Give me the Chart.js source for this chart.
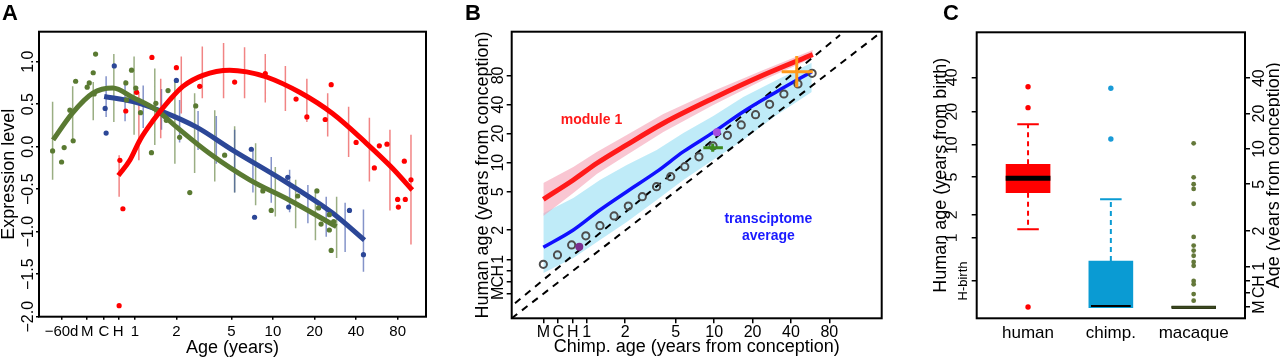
<!DOCTYPE html>
<html>
<head>
<meta charset="utf-8">
<script src="https://cdn.jsdelivr.net/npm/chart.js@4.4.1/dist/chart.umd.min.js"></script>
<style>
  body { margin: 0; width: 1280px; height: 357px; background: #fff; position: relative; overflow: hidden;
         font-family: 'Liberation Sans', Arial, sans-serif; }
  canvas { position: absolute; top: 0; }
  .panel { position: absolute; top: 2px; font-weight: bold; font-size: 22px; line-height: 1; }
</style>
</head>
<body>
<canvas id="chartA" width="430" height="357" style="left:0"></canvas>
<canvas id="chartB" width="480" height="357" style="left:430px"></canvas>
<canvas id="chartC" width="370" height="357" style="left:910px"></canvas>
<div class="panel" style="left:2px">A</div>
<div class="panel" style="left:465px">B</div>
<div class="panel" style="left:943px">C</div>

<script>
// ---------- panel A: expression vs age (years) ----------
const aXTicks = [0.295, 0.452, 0.597, 0.759, 1, 2, 5, 10, 20, 40, 80];
const aXLabels = ['\u221260d', 'M', 'C', 'H', '1', '2', '5', '10', '20', '40', '80'];
const aYTicks = [-2, -1.5, -1, -0.5, 0, 0.5, 1];
const aYLabels = ['\u22122.0', '\u22121.5', '\u22121.0', '\u22120.5', '0.0', '0.5', '1.0'];

// red (module 1, human)
const aRedFitX = [0.76, 0.92, 1.09, 1.36, 1.79, 2.23, 3.11, 4.86, 6.45, 9.0, 15.6, 27, 47.5, 73, 102];
const aRedFitY = [-0.34, -0.16, 0.08, 0.31, 0.55, 0.71, 0.84, 0.90, 0.88, 0.82, 0.64, 0.39, 0.04, -0.25, -0.51];
const aRedPtX = [0.78, 0.82, 0.77, 0.86, 1.03, 1.33, 2.0, 2.95, 5.28, 8.8, 14.7, 17.6, 23.9, 26.4, 40.0, 54.2, 58.9, 66.9, 79.9, 80.9, 90.8, 89.3, 99.8];
const aRedPtY = [-0.16, -0.73, -1.87, 0.42, 0.64, 1.05, 0.93, 0.71, 0.76, 0.86, 0.56, 0.35, 0.32, 0.73, 0.05, -0.25, 0.01, 0.03, -0.62, -0.71, -0.62, -0.17, -0.39];
const aRedBarX = [0.77, 1.07, 1.54, 2.17, 3.08, 4.39, 6.23, 8.8, 12.3, 17.6, 24.9, 35.3, 49.9, 70.3, 99.8];
const aRedBarLo = [-0.59, -0.16, 0.1, 0.39, 0.57, 0.57, 0.57, 0.52, 0.42, 0.29, 0.12, -0.12, -0.41, -0.75, -1.15];
const aRedBarHi = [-0.1, 0.64, 0.8, 1.06, 1.18, 1.22, 1.17, 1.09, 0.95, 0.8, 0.63, 0.47, 0.34, 0.2, 0.14];

// blue (chimp)
const aBlueFitX = [0.6, 0.97, 1.6, 2.8, 5.1, 11.7, 27, 46];
const aBlueFitY = [0.59, 0.53, 0.41, 0.23, -0.04, -0.39, -0.78, -1.1];
const aBluePtX = [0.61, 0.62, 0.71, 2.0, 6.97, 7.36, 12.8, 13.0, 35.8, 45.2];
const aBluePtY = [0.45, 0.16, 0.95, 0.78, -0.03, -0.83, -0.36, -0.71, -0.75, -1.27];
const aBlueBarX = [0.62, 0.85, 1.15, 1.56, 2.11, 2.87, 3.89, 5.28, 7.16, 9.72, 13.2, 17.9, 24.3, 33.3, 45.2];
const aBlueBarLo = [0.35, 0.3, 0.22, 0.2, 0.05, -0.04, -0.2, -0.54, -0.54, -0.66, -0.77, -0.9, -1.06, -1.24, -1.47];
const aBlueBarHi = [0.83, 0.78, 0.72, 0.68, 0.55, 0.42, 0.36, 0.2, -0.02, -0.12, -0.27, -0.45, -0.59, -0.66, -0.74];

// green (macaque)
const aGreenFitX = [0.256, 0.351, 0.497, 0.694, 0.967, 1.44, 2.01, 3.48, 6.78, 13.2, 28.8];
const aGreenFitY = [0.08, 0.39, 0.63, 0.69, 0.58, 0.43, 0.23, -0.08, -0.39, -0.63, -0.94];
const aGreenPtX = [0.254, 0.295, 0.308, 0.339, 0.358, 0.373, 0.452, 0.468, 0.5, 0.52, 0.508, 0.861, 0.871, 0.947, 1.017, 1.10, 1.32, 1.42, 1.74, 1.69, 2.11, 2.50, 2.76, 4.47, 8.45, 9.72, 15.1, 20.8, 21.4, 22.3, 25.6, 25.6, 26.4, 27.5];
const aGreenPtY = [-0.05, -0.18, -0.01, 0.43, 0.07, 0.77, 0.70, 0.75, 0.87, 1.09, 0.62, 0.75, 0.55, 0.90, 0.69, 0.40, -0.07, 0.51, 0.66, 0.31, 0.11, -0.54, 0.48, -0.10, -0.52, -0.75, -0.58, -0.52, -0.72, -0.91, -0.80, -0.98, -1.22, -0.88];
const aGreenBarX = [0.254, 0.355, 0.5, 0.705, 0.988, 1.395, 1.95, 2.71, 3.79, 5.28, 7.49, 10.4, 14.6, 20.3, 28.9];
const aGreenBarLo = [-0.39, 0.04, 0.31, 0.29, 0.14, 0.02, -0.2, -0.31, -0.41, -0.54, -0.69, -0.82, -0.96, -1.1, -1.31];
const aGreenBarHi = [0.53, 0.71, 0.76, 1.09, 1.06, 0.92, 0.78, 0.63, 0.43, 0.24, 0.04, -0.24, -0.39, -0.53, -0.59];

// ---------- panel B: human age vs chimp age ----------
const bTicks = [0.457, 0.598, 0.776, 1, 2, 5, 10, 20, 40, 80];
const bYTicks = [0.445, 0.586, 0.762, 1, 2, 5, 10, 20, 40, 80];
const bLabels = ['M', 'C', 'H', '1', '2', '5', '10', '20', '40', '80'];

const bModX = [0.457, 0.785, 1.20, 2.06, 3.99, 9.84, 24.3, 59.3];
const bModY = [4.18, 6.62, 9.86, 15.3, 25.6, 46.5, 80.9, 132];
const bModHi = [6.17, 9.03, 12.9, 19.4, 31.9, 55.2, 91.1, 147];
const bModLo = [2.81, 4.86, 7.64, 12.0, 20.8, 39.6, 71.8, 121];

const bAvgX = [0.457, 0.785, 1.27, 2.06, 3.54, 5.73, 9.84, 16.9, 30.9, 58.2];
const bAvgY = [1.33, 2.01, 3.24, 5.01, 8.07, 13.0, 20.6, 33.7, 54.3, 87.5];
const bAvgHi = [3.0, 4.31, 6.62, 9.46, 13.5, 20.3, 30.4, 47.9, 71.8, 108];
const bAvgLo = [0.72, 1.03, 1.58, 2.43, 4.11, 6.62, 10.7, 17.2, 31.2, 53.9];

const bCircX = [0.457, 0.590, 0.762, 0.984, 1.27, 1.64, 2.12, 2.73, 3.53, 4.56, 5.88, 7.59, 9.80, 12.7, 16.3, 21.1, 27.2, 35.2, 45.4, 58.6];
const bCircY = [0.887, 1.11, 1.41, 1.75, 2.23, 2.81, 3.56, 4.45, 5.64, 7.16, 9.09, 11.5, 14.9, 19.2, 24.6, 31.4, 40.2, 51.4, 65.3, 84.2];

const bPurpleX = [0.875, 10.5];
const bPurpleY = [1.35, 20.6];

const bDiagLowX = [0.258, 205.9];
const bDiagLowY = [0.245, 227];
const bDiagUpX = [0.274, 97];
const bDiagUpY = [0.351, 210];

// crosses: centre, x-extent, y-extent
const bGreenCross = {x: 9.73, y: 14.3, x0: 8.22, x1: 11.7, y0: 13.0, y1: 15.7};
const bOrangeCross = {x: 44.4, y: 87.5, x0: 33.8, x1: 59.3, y0: 60.3, y1: 127};

// ---------- panel C: box plots of human-equivalent age ----------
const GEST = 0.75;
const cSpecies = ['human', 'chimp.', 'macaque'];
const cBoxLo = [3.49, -0.306, -0.315];
const cBoxHi = [6.64, 0.36, -0.29];
const cMedian = [4.87, -0.29, -0.30];
const cWhiskLo = [1.32, -0.306, -0.315];
const cWhiskHi = [15.5, 2.97, -0.29];
const cHumanOut = [33.1, 21.7, -0.30];
const cChimpOut = [32.1, 11.4];
const cMacaqueOut = [10.4, 4.98, 4.25, 3.81, 2.66, 1.03, 0.75, 0.61, 0.48, 0.34, 0.26, 0, -0.047, -0.17, -0.24];
const cLeftTicks = [1, 2, 5, 10, 20, 40];           // years from birth
const cRightTicks = [0.45, 0.6, 0.75, 1, 2, 5, 10, 20, 40]; // years from conception
const cRightLabels = ['M', 'C', 'H', '1', '2', '5', '10', '20', '40'];

// ---------- helpers ----------
Chart.defaults.font.family = "'Liberation Sans', Arial, sans-serif";
Chart.defaults.color = '#000';

const pts = (xs, ys, f = v => v) => xs.map((x, i) => ({x: x, y: f(ys[i])}));

function segs(xs, lo, hi, f = v => v) {
  const out = [];
  xs.forEach((x, i) => { out.push({x: x, y: f(lo[i])}, {x: x, y: f(hi[i])}, {x: x, y: null}); });
  return out;
}

function fixedTicks(values) {
  return axis => { axis.ticks = values.map(v => ({value: v})); };
}

const frame = {
  id: 'frame',
  afterDraw(chart) {
    const {ctx, chartArea: a} = chart;
    ctx.save();
    ctx.strokeStyle = '#000';
    ctx.lineWidth = 2;
    ctx.strokeRect(a.left, a.top, a.right - a.left, a.bottom - a.top);
    ctx.restore();
  }
};

const notes = {
  id: 'notes',
  afterDatasetsDraw(chart, args, opts) {
    const {ctx, scales} = chart;
    (opts.items || []).forEach(n => {
      ctx.save();
      ctx.font = n.font;
      ctx.fillStyle = n.color;
      ctx.textAlign = 'center';
      ctx.textBaseline = 'middle';
      ctx.fillText(n.text, scales.x.getPixelForValue(n.x), scales.y.getPixelForValue(n.y));
      ctx.restore();
    });
  }
};

// right-hand title reads bottom-to-top like the left one
const sideTitle = {
  id: 'sideTitle',
  afterDraw(chart, args, opts) {
    if (!opts.text) return;
    const s = chart.scales[opts.axis];
    const a = chart.chartArea;
    const ctx = chart.ctx;
    ctx.save();
    ctx.translate(s.right - opts.offset, (a.top + a.bottom) / 2);
    ctx.rotate(-Math.PI / 2);
    ctx.font = opts.font;
    ctx.fillStyle = '#000';
    ctx.textAlign = 'center';
    ctx.textBaseline = 'middle';
    ctx.fillText(opts.text, 0, 0);
    ctx.restore();
  }
};

const baseOptions = {
  responsive: false,
  animation: false,
  events: [],
  plugins: {legend: {display: false}, tooltip: {enabled: false}}
};

function line(data, color, width, order, extra) {
  return Object.assign({data: data, showLine: true, borderColor: color, borderWidth: width,
    pointRadius: 0, order: order}, extra || {});
}

function dots(data, color, r, order) {
  return {data: data, showLine: false, backgroundColor: color, borderWidth: 0, pointRadius: r, order: order};
}

// ---------- chart A ----------
const RED = '#ff0000', BLUE = '#2c4797', GREEN = '#5a7a32';

new Chart(document.getElementById('chartA'), {
  type: 'scatter',
  data: {
    datasets: [
      line(segs(aRedBarX, aRedBarLo, aRedBarHi), 'rgba(232,50,50,0.6)', 1.5, 5),
      line(segs(aBlueBarX, aBlueBarLo, aBlueBarHi), 'rgba(50,75,165,0.6)', 1.5, 5),
      line(segs(aGreenBarX, aGreenBarLo, aGreenBarHi), 'rgba(100,130,65,0.65)', 1.5, 5),
      line(pts(aGreenFitX, aGreenFitY), GREEN, 5, 3, {cubicInterpolationMode: 'monotone'}),
      line(pts(aBlueFitX, aBlueFitY), BLUE, 5, 3, {cubicInterpolationMode: 'monotone'}),
      line(pts(aRedFitX, aRedFitY), RED, 5, 2, {cubicInterpolationMode: 'monotone'}),
      dots(pts(aGreenPtX, aGreenPtY), GREEN, 2.6, 1),
      dots(pts(aBluePtX, aBluePtY), BLUE, 2.6, 1),
      dots(pts(aRedPtX, aRedPtY), RED, 2.6, 1)
    ]
  },
  options: Object.assign({}, baseOptions, {
    layout: {padding: {top: 31.7, right: 3.3, bottom: 0, left: 0}},
    scales: {
      x: {
        type: 'logarithmic', min: 0.2025, max: 128.2,
        afterBuildTicks: fixedTicks(aXTicks),
        afterFit: s => { s.height = 40.3; },
        grid: {drawOnChartArea: false, tickLength: 3, color: '#000', lineWidth: 1.5},
        border: {display: false},
        ticks: {autoSkip: false, maxRotation: 0, padding: 3.3, font: {size: 15},
                callback: (v, i) => aXLabels[i]},
        title: {display: true, text: 'Age (years)', font: {size: 18, lineHeight: 1}, padding: 0}
      },
      y: {
        min: -2.0, max: 1.353,
        afterBuildTicks: fixedTicks(aYTicks),
        afterFit: s => { s.width = 39; },
        grid: {drawOnChartArea: false, tickLength: 3, color: '#000', lineWidth: 1.5},
        border: {display: false},
        ticks: {autoSkip: false, minRotation: 90, maxRotation: 90, crossAlign: 'center', padding: -8.8,
                font: {size: 16}, callback: (v, i) => aYLabels[i]},
        title: {display: true, text: 'Expression level', font: {size: 18, lineHeight: 1}, padding: 0}
      }
    }
  }),
  plugins: [frame]
});

// ---------- chart B ----------
const crossSegs = c => [
  {x: c.x0, y: c.y}, {x: c.x1, y: c.y}, {x: c.x1, y: null},
  {x: c.x, y: c.y0}, {x: c.x, y: c.y1}
];

new Chart(document.getElementById('chartB'), {
  type: 'scatter',
  data: {
    datasets: [
      line(pts(bModX, bModHi), 'rgba(0,0,0,0)', 0, 20, {fill: '+1', backgroundColor: 'rgba(245,160,180,0.6)'}),
      line(pts(bModX, bModLo), 'rgba(0,0,0,0)', 0, 20),
      line(pts(bAvgX, bAvgHi), 'rgba(0,0,0,0)', 0, 21, {fill: '+1', backgroundColor: 'rgba(170,228,246,0.75)'}),
      line(pts(bAvgX, bAvgLo), 'rgba(0,0,0,0)', 0, 21),
      line(pts(bDiagLowX, bDiagLowY), '#000', 2, 10, {borderDash: [7, 6]}),
      line(pts(bDiagUpX, bDiagUpY), '#000', 2, 10, {borderDash: [7, 6]}),
      line(pts(bAvgX, bAvgY), '#1010ff', 3.5, 6, {cubicInterpolationMode: 'monotone'}),
      line(pts(bModX, bModY), '#ff1a1a', 5, 6, {cubicInterpolationMode: 'monotone'}),
      {data: pts(bCircX, bCircY), showLine: false, pointRadius: 3.6, borderWidth: 2,
       borderColor: '#4d4d4d', backgroundColor: 'rgba(0,0,0,0)', order: 4},
      {data: pts(bPurpleX, bPurpleY), showLine: false, pointRadius: 4, borderWidth: 0,
       backgroundColor: ['#7b2e90', '#a64ee0'], order: 3},
      line(crossSegs(bGreenCross), '#3d8a1e', 3, 2),
      line(crossSegs(bOrangeCross), '#ff9a1a', 3, 2)
    ]
  },
  options: Object.assign({}, baseOptions, {
    layout: {padding: {top: 31.7, right: 28.3, bottom: 1.3, left: 44}},
    plugins: Object.assign({}, baseOptions.plugins, {
      notes: {items: [
        {text: 'module 1', x: 1.09, y: 27.7, color: '#ff1a1a', font: "bold 14px 'Liberation Sans', Arial, sans-serif"},
        {text: 'transciptome', x: 26.6, y: 2.61, color: '#1a1aff', font: "bold 14px 'Liberation Sans', Arial, sans-serif"},
        {text: 'average', x: 26.6, y: 1.74, color: '#1a1aff', font: "bold 14px 'Liberation Sans', Arial, sans-serif"}
      ]}
    }),
    scales: {
      x: {
        type: 'logarithmic', min: 0.2581, max: 205.9,
        afterBuildTicks: fixedTicks(bTicks),
        afterFit: s => { s.height = 37.4; },
        grid: {drawOnChartArea: false, tickLength: 5, color: '#000', lineWidth: 1.5},
        border: {display: false},
        ticks: {autoSkip: false, maxRotation: 0, padding: 0, font: {size: 16},
                callback: (v, i) => bLabels[i]},
        title: {display: true, text: 'Chimp. age (years from conception)', font: {size: 18, lineHeight: 1}, padding: 0}
      },
      y: {
        type: 'logarithmic', min: 0.245, max: 227,
        afterBuildTicks: fixedTicks(bYTicks),
        afterFit: s => { s.width = 37.7; },
        grid: {drawOnChartArea: false, tickLength: 5, color: '#000', lineWidth: 1.5},
        border: {display: false},
        ticks: {autoSkip: false, minRotation: 90, maxRotation: 90, crossAlign: 'center', padding: -0.5,
                font: {size: 16}, callback: (v, i) => bLabels[i]},
        title: {display: true, text: 'Human age (years from conception)', font: {size: 18, lineHeight: 1}, padding: 0}
      }
    }
  }),
  plugins: [frame, notes]
});

// ---------- chart C ----------
const conc = v => v + GEST;
const cWhiskers = [];
const cCaps = [];
const CAP = 0.13;
cSpecies.forEach((s, i) => {
  const x = i + 1;
  if (cWhiskHi[i] > cBoxHi[i]) {
    cWhiskers.push({x: x, y: conc(cBoxHi[i])}, {x: x, y: conc(cWhiskHi[i])}, {x: x, y: null});
    cCaps.push({x: x - CAP, y: conc(cWhiskHi[i])}, {x: x + CAP, y: conc(cWhiskHi[i])}, {x: x, y: null});
  }
  if (cWhiskLo[i] < cBoxLo[i]) {
    cWhiskers.push({x: x, y: conc(cBoxLo[i])}, {x: x, y: conc(cWhiskLo[i])}, {x: x, y: null});
    cCaps.push({x: x - CAP, y: conc(cWhiskLo[i])}, {x: x + CAP, y: conc(cWhiskLo[i])}, {x: x, y: null});
  }
});
const medianSeg = (i, half) => [{x: i + 1 - half, y: conc(cMedian[i])}, {x: i + 1 + half, y: conc(cMedian[i])}];
const outPts = (i, arr) => arr.map(v => ({x: i + 1, y: conc(v)}));

const C_COLORS = ['#ff0000', '#0a9bd3', '#6b7f3a'];
const cYMin = 0.3606, cYMax = 98.4;

new Chart(document.getElementById('chartC'), {
  type: 'scatter',
  data: {
    datasets: [
      {type: 'bar', data: cSpecies.map((s, i) => ({x: i + 1, y: [conc(cBoxLo[i]), conc(cBoxHi[i])]})),
       backgroundColor: C_COLORS, borderColor: ['#ff0000', '#0a9bd3', '#2f3a18'], borderWidth: [0, 0, 1.2],
       borderSkipped: false, barThickness: 44, order: 10},
      line(cWhiskers.slice(0, 6), RED, 2, 8, {borderDash: [5, 4]}),
      line(cWhiskers.slice(6), '#0a9bd3', 2, 8, {borderDash: [5, 4]}),
      line(cCaps.slice(0, 6), RED, 2, 7),
      line(cCaps.slice(6), '#0a9bd3', 2, 7),
      line(medianSeg(0, 0.27), '#000', 5, 5),
      line(medianSeg(1, 0.24), '#000', 2, 5),
      line(medianSeg(2, 0.27), '#2f3a18', 1.5, 5),
      dots(outPts(0, cHumanOut), RED, 2.7, 1),
      dots(outPts(1, cChimpOut), '#1a9bd7', 2.7, 1),
      dots(outPts(2, cMacaqueOut), '#64783a', 2.4, 1)
    ]
  },
  options: Object.assign({}, baseOptions, {
    layout: {padding: {top: 32.3, right: 0, bottom: 0, left: 22}},
    plugins: Object.assign({}, baseOptions.plugins, {
      sideTitle: {axis: 'yR', offset: 6, text: 'Age (years from conception)',
                  font: "18px 'Liberation Sans', Arial, sans-serif"}
    }),
    scales: {
      x: {
        type: 'linear', min: 0.38, max: 3.62, offset: false,
        afterBuildTicks: fixedTicks([1, 2, 3]),
        afterFit: s => { s.height = 38.7; s.paddingLeft = 0; s.paddingRight = 0; },
        grid: {display: false, drawTicks: false, offset: false},
        border: {display: false},
        ticks: {autoSkip: false, maxRotation: 0, padding: 5, font: {size: 17},
                callback: (v, i) => cSpecies[i]}
      },
      y: {
        type: 'logarithmic', min: cYMin, max: cYMax, weight: 0,
        afterBuildTicks: fixedTicks([0].concat(cLeftTicks).map(conc)),
        afterFit: s => { s.width = 20; },
        grid: {drawOnChartArea: false, tickLength: 5, color: '#000', lineWidth: 1.5},
        border: {display: false},
        ticks: {autoSkip: false, minRotation: 90, maxRotation: 90, crossAlign: 'center', padding: -10.8,
                font: {size: 13}, callback: (v, i) => (i === 0 ? 'H-birth' : '')}
      },
      yOut: {
        type: 'logarithmic', position: 'left', min: cYMin, max: cYMax, weight: 1,
        afterBuildTicks: fixedTicks(cLeftTicks.map(conc)),
        afterFit: s => { s.width = 24.7; },
        grid: {display: false, drawTicks: false},
        border: {display: false},
        ticks: {autoSkip: false, minRotation: 90, maxRotation: 90, crossAlign: 'center', padding: -5.2,
                font: {size: 16}, callback: (v, i) => String(cLeftTicks[i])},
        title: {display: true, text: 'Human age (years from birth)', font: {size: 18, lineHeight: 1}, padding: 0}
      },
      yR: {
        type: 'logarithmic', position: 'right', min: cYMin, max: cYMax,
        afterBuildTicks: fixedTicks(cRightTicks),
        afterFit: s => { s.width = 35; },
        grid: {drawOnChartArea: false, tickLength: 5, color: '#000', lineWidth: 1.5},
        border: {display: false},
        ticks: {autoSkip: false, minRotation: 90, maxRotation: 90, crossAlign: 'center', padding: 1.1,
                font: {size: 16}, callback: (v, i) => cRightLabels[i]}
      }
    }
  }),
  plugins: [frame, sideTitle]
});
</script>
</body>
</html>
